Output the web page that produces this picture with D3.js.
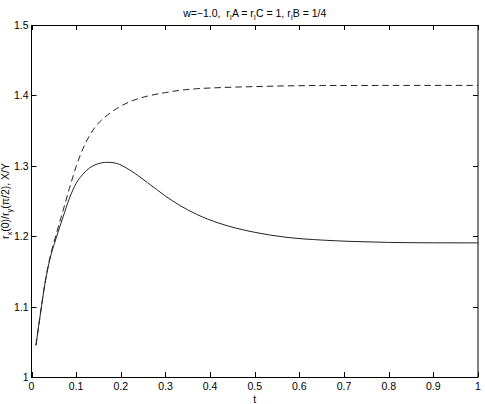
<!DOCTYPE html>
<html><head><meta charset="utf-8">
<script src="https://cdn.jsdelivr.net/npm/d3@7"></script>
<style>
body{margin:0;background:#fff;}
svg{display:block;font-family:"Liberation Sans",Arial,sans-serif;}
text{white-space:pre;}
</style></head>
<body>
<svg id="c" width="485" height="404"></svg>
<script>
const tValues = [0.01,0.02,0.03,0.04,0.055,0.07,0.085,0.10,0.115,0.13,0.145,0.17,0.19,0.22,0.26,0.30,0.33,0.37,0.42,0.50,0.57,0.65,0.72,0.80,0.90,1.0];
const ratioXY = [1.045,1.090,1.132,1.164,1.197,1.226,1.254,1.275,1.288,1.297,1.302,1.305,1.3035,1.294,1.276,1.257,1.2445,1.231,1.2185,1.2055,1.1985,1.1945,1.1925,1.1912,1.1906,1.1905];
const ratioR = [1.045,1.090,1.133,1.166,1.202,1.235,1.268,1.299,1.324,1.343,1.357,1.372,1.381,1.391,1.399,1.404,1.407,1.4095,1.411,1.4125,1.4135,1.414,1.414,1.4142,1.4142,1.4142];
const xTicks = [0,0.1,0.2,0.3,0.4,0.5,0.6,0.7,0.8,0.9,1];
const yTicks = [1,1.1,1.2,1.3,1.4,1.5];

const svg = d3.select("#c");
const L = 31.5, R = 478, T = 25, B = 377;
const x = d3.scaleLinear().domain([0,1]).range([L,R]);
const y = d3.scaleLinear().domain([1,1.5]).range([B,T]);
const tl = 5;

const g = svg.append("g").attr("stroke","#000").attr("stroke-width",1);
xTicks.forEach(v=>{
  const px = Math.round(x(v))+0.5;
  g.append("line").attr("x1",px).attr("x2",px).attr("y1",B).attr("y2",B-tl);
  g.append("line").attr("x1",px).attr("x2",px).attr("y1",T).attr("y2",T+tl);
});
yTicks.forEach(v=>{
  const py = Math.round(y(v))+0.5;
  g.append("line").attr("x1",L).attr("x2",L+tl).attr("y1",py).attr("y2",py);
  g.append("line").attr("x1",R).attr("x2",R-tl).attr("y1",py).attr("y2",py);
});
svg.append("rect").attr("x",L).attr("y",T+0.5).attr("width",R-L).attr("height",B-T)
  .attr("fill","none").attr("stroke","#000").attr("stroke-width",1);

xTicks.forEach(v=>{
  svg.append("text").attr("x",x(v)).attr("y",B+13).attr("text-anchor","middle")
    .attr("font-size",10.5).text(d3.format("~g")(v));
});
yTicks.forEach(v=>{
  svg.append("text").attr("x",L-3).attr("y",y(v)+4).attr("text-anchor","end")
    .attr("font-size",10.5).text(d3.format("~g")(v));
});

const line = d3.line().x((d,i)=>x(tValues[i])).y(d=>y(d)).curve(d3.curveMonotoneX);
svg.append("path").attr("d",line(ratioR)).attr("fill","none").attr("stroke","#222")
  .attr("stroke-width",1).attr("stroke-dasharray","6.5,4");
svg.append("path").attr("d",line(ratioXY)).attr("fill","none").attr("stroke","#222")
  .attr("stroke-width",1);

svg.append("text").attr("x",(L+R)/2).attr("y",403).attr("text-anchor","middle")
  .attr("font-size",10.5).text("t");

const yl = svg.append("text").attr("transform",`translate(9,${(T+B)/2}) rotate(-90)`)
  .attr("text-anchor","middle").attr("font-size",10.5);
yl.append("tspan").text("r");
yl.append("tspan").attr("font-size",7.5).attr("dy",3).text("x");
yl.append("tspan").attr("dy",-3).text("(0)/r");
yl.append("tspan").attr("font-size",7.5).attr("dy",3).text("y");
yl.append("tspan").attr("dy",-3).text("(π/2), X/Y");

const tt = svg.append("text").attr("x",(L+R)/2).attr("y",17).attr("text-anchor","middle").attr("font-size",10.5);
tt.append("tspan").text("w=−1.0,  r");
tt.append("tspan").attr("font-size",7.5).attr("dy",3).text("I");
tt.append("tspan").attr("dy",-3).text("A = r");
tt.append("tspan").attr("font-size",7.5).attr("dy",3).text("I");
tt.append("tspan").attr("dy",-3).text("C = 1, r");
tt.append("tspan").attr("font-size",7.5).attr("dy",3).text("I");
tt.append("tspan").attr("dy",-3).text("B = 1/4");
</script>
</body></html>
